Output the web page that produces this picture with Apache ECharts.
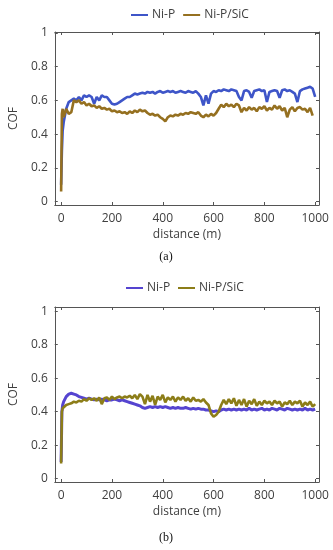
<!DOCTYPE html>
<html><head><meta charset="utf-8">
<script src="https://cdn.jsdelivr.net/npm/echarts@6/dist/echarts.min.js"></script>
<style>html,body{margin:0;padding:0;background:#fff}#c{width:333px;height:550px}</style>
</head><body><div id="c"></div>
<script>
const distance = [0,3,6,10,20,30,40,50,60,70,80,90,100,110,120,130,140,150,160,170,180,190,200,210,220,230,240,250,260,270,280,290,300,310,320,330,340,350,360,370,380,390,400,410,420,430,440,450,460,470,480,490,500,510,520,530,540,550,560,570,580,590,600,610,620,630,640,650,660,670,680,690,700,710,720,730,740,750,760,770,780,790,800,810,820,830,840,850,860,870,880,890,900,910,920,930,940,950,960,970,980,990,1000];

const aNiP = [0.10,0.30,0.42,0.47,0.55,0.59,0.60,0.61,0.60,0.62,0.60,0.63,0.62,0.63,0.62,0.58,0.62,0.60,0.63,0.62,0.62,0.60,0.58,0.575,0.58,0.59,0.60,0.61,0.62,0.62,0.63,0.64,0.635,0.64,0.645,0.64,0.65,0.645,0.65,0.64,0.65,0.655,0.645,0.65,0.655,0.65,0.655,0.645,0.65,0.655,0.65,0.645,0.655,0.65,0.645,0.655,0.64,0.62,0.57,0.63,0.58,0.64,0.655,0.65,0.66,0.655,0.665,0.66,0.655,0.665,0.66,0.655,0.62,0.60,0.655,0.66,0.65,0.615,0.655,0.66,0.665,0.655,0.66,0.59,0.65,0.655,0.66,0.655,0.615,0.66,0.665,0.655,0.66,0.65,0.64,0.59,0.655,0.665,0.67,0.675,0.68,0.67,0.62];

const aNiPSiC = [0.06,0.52,0.55,0.50,0.55,0.52,0.53,0.60,0.59,0.60,0.58,0.59,0.57,0.58,0.565,0.57,0.555,0.565,0.55,0.555,0.545,0.55,0.535,0.54,0.53,0.535,0.525,0.53,0.52,0.535,0.525,0.54,0.53,0.545,0.535,0.54,0.525,0.515,0.52,0.51,0.515,0.50,0.49,0.475,0.50,0.51,0.505,0.515,0.51,0.52,0.515,0.525,0.52,0.53,0.525,0.52,0.53,0.51,0.50,0.515,0.505,0.52,0.51,0.525,0.55,0.575,0.56,0.58,0.565,0.575,0.56,0.58,0.57,0.53,0.555,0.54,0.56,0.545,0.555,0.535,0.56,0.55,0.565,0.54,0.555,0.545,0.57,0.55,0.565,0.54,0.555,0.50,0.545,0.56,0.535,0.555,0.56,0.545,0.55,0.53,0.555,0.51,null];

const bNiP = [0.10,0.40,0.44,0.46,0.49,0.505,0.51,0.505,0.50,0.49,0.485,0.48,0.475,0.48,0.475,0.47,0.475,0.47,0.475,0.47,0.465,0.47,0.47,0.475,0.47,0.465,0.47,0.465,0.46,0.455,0.45,0.445,0.44,0.435,0.425,0.42,0.425,0.43,0.425,0.43,0.425,0.43,0.425,0.43,0.425,0.42,0.425,0.42,0.425,0.42,0.42,0.425,0.42,0.415,0.42,0.415,0.42,0.415,0.415,0.41,0.41,0.405,0.40,0.405,0.40,0.41,0.415,0.41,0.415,0.41,0.415,0.41,0.415,0.41,0.415,0.41,0.42,0.41,0.415,0.41,0.415,0.42,0.41,0.415,0.41,0.42,0.415,0.41,0.42,0.415,0.41,0.42,0.415,0.41,0.415,0.41,0.415,0.41,0.42,0.41,0.415,0.41,0.415];

const bNiPSiC = [0.09,0.40,0.42,0.43,0.44,0.445,0.45,0.46,0.455,0.465,0.46,0.475,0.465,0.48,0.47,0.48,0.465,0.485,0.445,0.48,0.485,0.47,0.49,0.475,0.485,0.49,0.48,0.49,0.485,0.495,0.48,0.50,0.475,0.505,0.49,0.445,0.50,0.46,0.495,0.44,0.49,0.47,0.50,0.455,0.485,0.47,0.49,0.46,0.485,0.47,0.49,0.465,0.48,0.46,0.485,0.465,0.47,0.46,0.475,0.455,0.44,0.39,0.37,0.38,0.40,0.44,0.47,0.445,0.475,0.45,0.48,0.435,0.47,0.44,0.475,0.43,0.465,0.445,0.475,0.435,0.46,0.44,0.465,0.45,0.46,0.44,0.465,0.45,0.46,0.43,0.455,0.445,0.465,0.44,0.46,0.45,0.465,0.43,0.455,0.44,0.46,0.43,0.445];

const xTicks = [0,200,400,600,800,1000];
const yTicks = [0,0.2,0.4,0.6,0.8,1];
const seriesNames = ['Ni-P','Ni-P/SiC'];
const captions = ['(a)','(b)'];

const FONT = 'Open Sans';
const TXT = '#404040';
const pair = (ys) => distance.map((d,i) => [d, ys[i]]);

const chart = echarts.init(document.getElementById('c'), null, {renderer:'canvas'});

function xAx(gi, pos, labels) {
  return {
    type:'value', gridIndex:gi, position:pos, min:-25, max:1015,
    axisLine:{show:true, onZero:false, lineStyle:{color:'#555', width:1}},
    axisTick:{show:true, inside:true, length:3, customValues:xTicks, lineStyle:{color:'#555'}},
    axisLabel:{show:labels, customValues:xTicks, color:TXT, fontFamily:FONT, fontSize:12, margin:8,
      formatter:(v)=> String(v)},
    splitLine:{show:false},
    name: labels ? 'distance (m)' : '', nameLocation:'middle', nameGap:24,
    nameTextStyle:{color:TXT, fontFamily:FONT, fontSize:12}
  };
}
function yAx(gi, pos, labels, max) {
  return {
    type:'value', gridIndex:gi, position:pos, min:-0.02, max:max,
    axisLine:{show:true, onZero:false, lineStyle:{color:'#555', width:1}},
    axisTick:{show:true, inside:true, length:3, customValues:yTicks, lineStyle:{color:'#555'}},
    axisLabel:{show:labels, customValues:yTicks, color:TXT, fontFamily:FONT, fontSize:12, margin:7,
      formatter:(v)=> String(Math.round(v*10)/10)},
    splitLine:{show:false},
    name: labels ? 'COF' : '', nameLocation:'middle', nameGap:30,
    nameTextStyle:{color:TXT, fontFamily:FONT, fontSize:12}
  };
}

const colors = [['#3e55c8','#957020'],['#5544d0','#8c7d18']];

const option = {
  animation:false,
  textStyle:{fontFamily:FONT},
  grid:[
    {left:48, right:14, top:32, height:173},
    {left:48, right:14, top:307, height:175}
  ],
  xAxis:[xAx(0,'bottom',true), xAx(0,'top',false), xAx(1,'bottom',true), xAx(1,'top',false)],
  yAxis:[yAx(0,'left',true,1.005), yAx(0,'right',false,1.005), yAx(1,'left',true,1.025), yAx(1,'right',false,1.025)],
  legend:[
    {left:126, top:4, itemWidth:17, itemHeight:2, itemGap:8, icon:'rect',
     textStyle:{color:TXT, fontFamily:FONT, fontSize:12, padding:[0,0,0,-1]},
     data:[{name:seriesNames[0]},{name:seriesNames[1]}]},
  ],
  series:[
    {name:seriesNames[0], type:'line', xAxisIndex:0, yAxisIndex:0, data:pair(aNiP), showSymbol:false, color:colors[0][0], lineStyle:{width:2.6}, z:3},
    {name:seriesNames[1], type:'line', xAxisIndex:0, yAxisIndex:0, data:pair(aNiPSiC), showSymbol:false, color:colors[0][1], lineStyle:{width:2.6}, z:4},
    {name:'b1', type:'line', xAxisIndex:2, yAxisIndex:2, data:pair(bNiP), showSymbol:false, color:colors[1][0], lineStyle:{width:3}, z:3},
    {name:'b2', type:'line', xAxisIndex:2, yAxisIndex:2, data:pair(bNiPSiC), showSymbol:false, color:colors[1][1], lineStyle:{width:2.6}, z:4}
  ],
  graphic:[
    {type:'line', shape:{x1:126,y1:288,x2:143,y2:288}, style:{stroke:colors[1][0], lineWidth:2}},
    {type:'text', x:147, y:288, style:{text:seriesNames[0], fill:TXT, font:'12px "Open Sans"', verticalAlign:'middle'}},
    {type:'line', shape:{x1:178,y1:288,x2:195,y2:288}, style:{stroke:colors[1][1], lineWidth:2}},
    {type:'text', x:199, y:288, style:{text:seriesNames[1], fill:TXT, font:'12px "Open Sans"', verticalAlign:'middle'}},
    {type:'text', x:166, y:257, style:{text:captions[0], fill:'#111', font:'12px "Liberation Serif"', align:'center', verticalAlign:'middle'}},
    {type:'text', x:166, y:538, style:{text:captions[1], fill:'#111', font:'12px "Liberation Serif"', align:'center', verticalAlign:'middle'}}
  ]
};
chart.setOption(option);
</script>
</body></html>
